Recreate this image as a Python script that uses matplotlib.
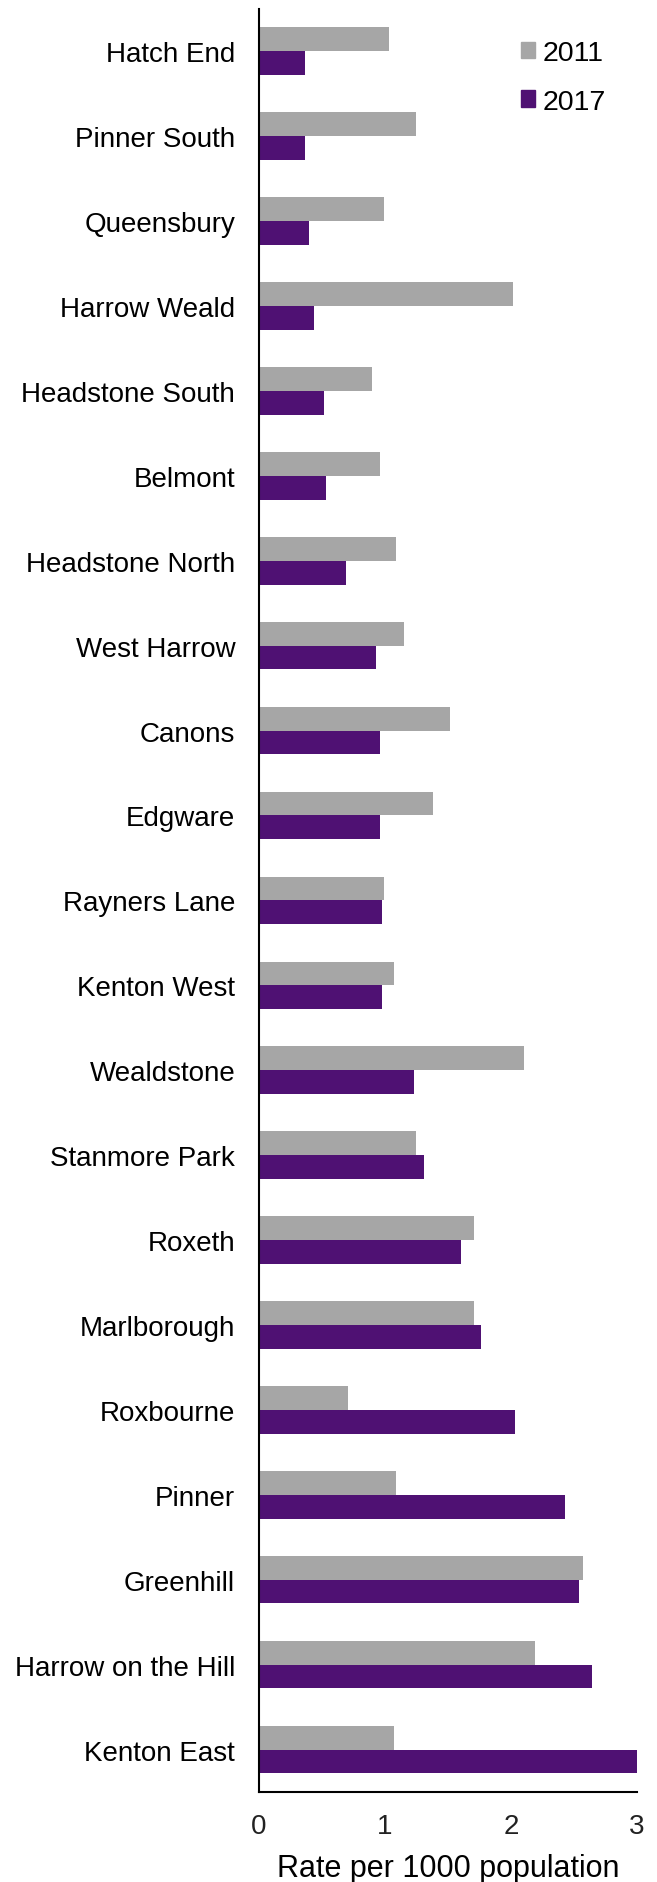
import numpy as np
import matplotlib.pyplot as plt
from matplotlib.patches import Patch

plt.rcParams['font.family'] = ['Liberation Sans', 'DejaVu Sans']

#ward names, top to bottom as in the chart
wards = ['Hatch End', 'Pinner South', 'Queensbury', 'Harrow Weald', 'Headstone South',
         'Belmont', 'Headstone North', 'West Harrow', 'Canons', 'Edgware',
         'Rayners Lane', 'Kenton West', 'Wealdstone', 'Stanmore Park', 'Roxeth',
         'Marlborough', 'Roxbourne', 'Pinner', 'Greenhill', 'Harrow on the Hill',
         'Kenton East']
rate_2011 = [1.03, 1.25, 0.99, 2.02, 0.90, 0.96, 1.09, 1.15, 1.52, 1.38,
             0.99, 1.07, 2.10, 1.25, 1.71, 1.71, 0.71, 1.09, 2.57, 2.19, 1.07]
rate_2017 = [0.37, 0.37, 0.40, 0.44, 0.52, 0.53, 0.69, 0.93, 0.96, 0.96,
             0.98, 0.98, 1.23, 1.31, 1.60, 1.76, 2.03, 2.43, 2.54, 2.64, 3.00]
xticks = [0, 1, 2, 3]

grey = '#a6a6a6'
purple = '#4f1173'

fig = plt.figure(figsize=(6.57, 18.83), dpi=100)
ax = fig.add_axes([0.394, 0.0478, 0.5756, 0.947])

y = np.arange(len(wards))
h = 0.28
ax.barh(y - h/2, rate_2011, height=h, color=grey, label='2011')
ax.barh(y + h/2, rate_2017, height=h, color=purple, label='2017')

ax.set_ylim(len(wards) - 0.5, -0.5)
ax.set_xlim(0, 3)
ax.set_yticks(y)
ax.set_yticklabels(wards, fontsize=20)
ax.set_xticks(xticks)
ax.set_xticklabels([str(t) for t in xticks], fontsize=20, color='#222222')
ax.tick_params(axis='both', length=0)
ax.tick_params(axis='y', pad=17)
ax.tick_params(axis='x', pad=15)
ax.set_xlabel('Rate per 1000 population', fontsize=22, labelpad=10)

for s in ['top', 'right']:
    ax.spines[s].set_visible(False)
ax.spines['left'].set_linewidth(1.5)
ax.spines['bottom'].set_linewidth(1.5)

handles = [Patch(color=grey), Patch(color=purple)]
ax.legend(handles, ['2011', '2017'], loc='upper left', bbox_to_anchor=(0.625, 0.997),
          frameon=False, fontsize=20.5, handlelength=0.5, handleheight=0.5,
          handletextpad=0.25, labelspacing=0.8)

fig.savefig('out.png', dpi=100)
